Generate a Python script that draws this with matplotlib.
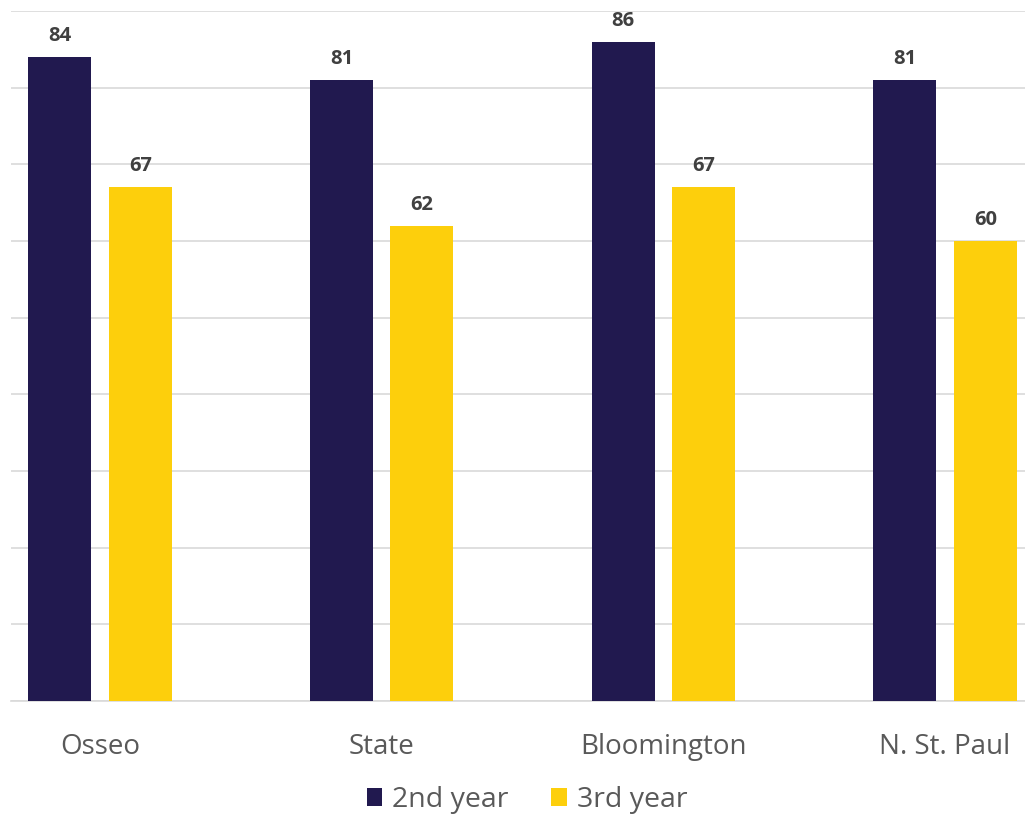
import matplotlib
matplotlib.use('Agg')
import matplotlib.pyplot as plt
import numpy as np

categories = ['Osseo', 'State', 'Bloomington', 'N. St. Paul']
year2 = [84, 81, 86, 81]
year3 = [67, 62, 67, 60]
series_names = ['2nd year', '3rd year']

navy = '#21194f'
gold = '#fdcf0c'
textgray = '#595959'

plt.rcParams['font.family'] = ['Open Sans', 'DejaVu Sans']

fig = plt.figure(figsize=(10.25, 8.16), dpi=100)
ax = fig.add_axes([11/1025, 115/816, 1 - 11/1025, 690/816])

x = np.arange(len(categories))
w = 0.224
off = 0.143
b1 = ax.bar(x - off, year2, w, color=navy, label=series_names[0], zorder=3)
b2 = ax.bar(x + off, year3, w, color=gold, label=series_names[1], zorder=3)

for bars in (b1, b2):
    for r in bars:
        ax.annotate(str(int(r.get_height())),
                    (r.get_x() + r.get_width() / 2, r.get_height()),
                    xytext=(0, 8), textcoords='offset points',
                    ha='center', va='bottom', fontsize=14.5,
                    fontweight='bold', color='#404040')

ax.set_xlim(-0.316, 3.284)
ax.set_ylim(0, 90)
ax.set_yticks(np.arange(0, 91, 10))
ax.yaxis.grid(True, color='#d9d9d9', linewidth=1.2, zorder=0)
ax.tick_params(axis='y', left=False, labelleft=False)
ax.tick_params(axis='x', length=0, pad=23, labelsize=20, labelcolor=textgray)
ax.set_xticks(x)
ax.set_xticklabels(categories)
for s in ['top', 'right', 'left']:
    ax.spines[s].set_visible(False)
ax.spines['bottom'].set_color('#d9d9d9')
ax.spines['bottom'].set_linewidth(1.2)

leg = fig.legend(loc='center', bbox_to_anchor=(527/1025, 1 - 800/816),
                 ncol=2, frameon=False, fontsize=20.5, handlelength=0.55,
                 handleheight=0.55, handletextpad=0.35, columnspacing=1.5)
for t in leg.get_texts():
    t.set_color(textgray)

fig.savefig('out.png', dpi=100)
